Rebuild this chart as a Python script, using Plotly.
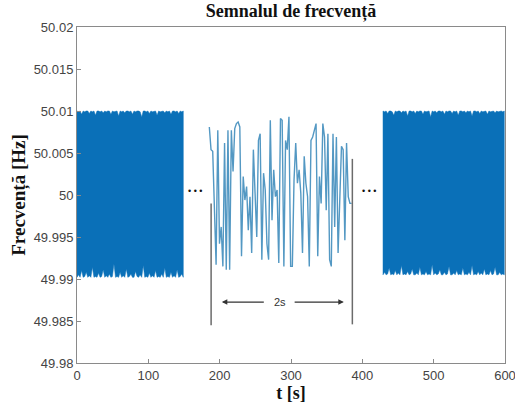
import numpy as np
import plotly.graph_objects as go

# ---------------- data ----------------
x_ticks = [0, 100, 200, 300, 400, 500, 600]
y_ticks = [49.98, 49.985, 49.99, 49.995, 50.0, 50.005, 50.01, 50.015, 50.02]
y_tick_labels = ["49.98", "49.985", "49.99", "49.995", "50", "50.005", "50.01", "50.015", "50.02"]

# dense block (left), span in seconds and jagged edges
left_span = [0, 149]
left_top = [50.0100, 50.0099, 50.0100, 50.0096, 50.0100, 50.0099, 50.0100, 50.0100, 50.0097, 50.0100,
            50.0099, 50.0100, 50.0095, 50.0100, 50.0100, 50.0099, 50.0100, 50.0098, 50.0100, 50.0099,
            50.0100, 50.0100, 50.0096, 50.0100, 50.0099, 50.0100, 50.0100, 50.0094, 50.0100, 50.0099,
            50.0100, 50.0098, 50.0100, 50.0100, 50.0099, 50.0100, 50.0096, 50.0100, 50.0099, 50.0100,
            50.0100, 50.0099, 50.0093, 50.0100, 50.0100, 50.0099, 50.0100, 50.0097, 50.0100, 50.0099,
            50.0100, 50.0100, 50.0095, 50.0100, 50.0099, 50.0100, 50.0100, 50.0098, 50.0100, 50.0099,
            50.0100, 50.0096, 50.0100, 50.0100, 50.0099, 50.0100, 50.0097, 50.0100, 50.0099, 50.0100]
left_bottom = [49.9902, 49.9905, 49.9902, 49.9910, 49.9902, 49.9903, 49.9908, 49.9902, 49.9904, 49.9902,
               49.9914, 49.9902, 49.9903, 49.9902, 49.9907, 49.9902, 49.9903, 49.9911, 49.9902, 49.9904,
               49.9902, 49.9906, 49.9902, 49.9903, 49.9918, 49.9902, 49.9903, 49.9902, 49.9908, 49.9902,
               49.9904, 49.9902, 49.9912, 49.9902, 49.9903, 49.9906, 49.9902, 49.9902, 49.9909, 49.9903,
               49.9902, 49.9905, 49.9902, 49.9916, 49.9902, 49.9903, 49.9902, 49.9907, 49.9902, 49.9904,
               49.9902, 49.9910, 49.9902, 49.9903, 49.9902, 49.9906, 49.9902, 49.9913, 49.9902, 49.9903,
               49.9902, 49.9908, 49.9902, 49.9904, 49.9902, 49.9911, 49.9902, 49.9903, 49.9906, 49.9902]

# dense block (right)
right_span = [429, 599]
right_top = [50.0100, 50.0099, 50.0100, 50.0097, 50.0100, 50.0100, 50.0099, 50.0095, 50.0100, 50.0099,
             50.0100, 50.0100, 50.0098, 50.0100, 50.0099, 50.0100, 50.0094, 50.0100, 50.0100, 50.0099,
             50.0100, 50.0097, 50.0100, 50.0099, 50.0100, 50.0100, 50.0096, 50.0100, 50.0099, 50.0100,
             50.0100, 50.0093, 50.0100, 50.0099, 50.0100, 50.0098, 50.0100, 50.0100, 50.0099, 50.0100,
             50.0096, 50.0100, 50.0099, 50.0100, 50.0100, 50.0097, 50.0100, 50.0099, 50.0100, 50.0095,
             50.0100, 50.0100, 50.0099, 50.0100, 50.0098, 50.0100, 50.0099, 50.0100, 50.0094, 50.0100,
             50.0100, 50.0099, 50.0100, 50.0097, 50.0100, 50.0099, 50.0100, 50.0100, 50.0096, 50.0100,
             50.0099, 50.0100, 50.0100, 50.0098, 50.0100, 50.0099, 50.0100, 50.0100, 50.0099, 50.0100]
right_bottom = [49.9905, 49.9908, 49.9905, 49.9906, 49.9913, 49.9905, 49.9906, 49.9905, 49.9910, 49.9905,
                49.9907, 49.9905, 49.9916, 49.9905, 49.9906, 49.9905, 49.9909, 49.9905, 49.9906, 49.9912,
                49.9905, 49.9905, 49.9907, 49.9905, 49.9914, 49.9905, 49.9906, 49.9905, 49.9909, 49.9905,
                49.9906, 49.9905, 49.9917, 49.9905, 49.9907, 49.9905, 49.9906, 49.9911, 49.9905, 49.9905,
                49.9908, 49.9905, 49.9906, 49.9915, 49.9905, 49.9905, 49.9907, 49.9905, 49.9910, 49.9905,
                49.9906, 49.9905, 49.9913, 49.9905, 49.9906, 49.9905, 49.9908, 49.9905, 49.9916, 49.9905,
                49.9906, 49.9905, 49.9909, 49.9905, 49.9907, 49.9905, 49.9912, 49.9905, 49.9906, 49.9905,
                49.9910, 49.9905, 49.9906, 49.9914, 49.9905, 49.9905, 49.9908, 49.9905, 49.9906, 49.9905]

# zoomed 2 s segment shown in the middle
mid_span = [185.5, 385.0]
mid_values = [50.0081, 50.0054, 50.0052, 49.9982, 49.9917, 50.0077, 49.9942, 49.9962, 49.9915, 50.0062,
              49.9911, 50.0077, 49.9911, 50.0077, 50.0028, 50.0079, 50.0085, 50.0087, 50.0081, 49.9927,
              50.0022, 49.9994, 50.0010, 49.9958, 49.9998, 49.9931, 50.0054, 50.0002, 49.9950, 50.0065,
              50.0073, 49.9923, 50.0026, 50.0006, 49.9942, 49.9923, 50.0089, 49.9970, 50.0030, 49.9998,
              50.0006, 49.9919, 50.0091, 50.0089, 49.9915, 50.0065, 50.0054, 50.0093, 49.9915, 49.9915,
              50.0018, 50.0062, 50.0014, 50.0030, 50.0002, 49.9931, 50.0046, 50.0014, 49.9998, 49.9915,
              50.0065, 50.0069, 50.0077, 50.0085, 49.9927, 50.0022, 49.9990, 50.0085, 50.0069, 49.9982,
              50.0073, 49.9923, 49.9915, 50.0073, 49.9962, 50.0069, 49.9931, 50.0002, 50.0058, 50.0054,
              49.9946, 50.0062, 49.9998, 49.9990, 49.9990]

# annotation elements
marker_lines = [[188, 49.9845, 49.9990], [386, 49.9846, 50.0043]]
span_arrow_y = 49.98725
span_arrow_left = [203, 264]
span_arrow_right = [303, 374]
span_label = "2s"
span_label_x = 284
ellipsis_x = [165, 410]
ellipsis_y = 50.0005

block_color = "#0A70B8"
mid_color = "#5398c3"
axis_color = "#8a8a8a"

fig = go.Figure()

def block(span, top, bottom):
    tt = np.linspace(span[0], span[1], len(top))
    tb = np.linspace(span[0], span[1], len(bottom))
    xs = list(tt) + list(tb[::-1]) + [tt[0]]
    ys = list(top) + list(bottom[::-1]) + [top[0]]
    fig.add_trace(go.Scatter(x=xs, y=ys, mode="lines", fill="toself",
                             fillcolor=block_color, line=dict(color=block_color, width=0.5),
                             hoverinfo="skip", showlegend=False))

block(left_span, left_top, left_bottom)
block(right_span, right_top, right_bottom)

t_mid = np.linspace(mid_span[0], mid_span[1], len(mid_values))
fig.add_trace(go.Scatter(x=t_mid, y=mid_values, mode="lines",
                         line=dict(color=mid_color, width=1.4), showlegend=False))

for xl, y0, y1 in marker_lines:
    fig.add_shape(type="line", x0=xl, x1=xl, y0=y0, y1=y1, xref="x", yref="y",
                  line=dict(color="#6b6b6b", width=1.5))

# arrows
fig.add_annotation(x=span_arrow_left[0], y=span_arrow_y, ax=span_arrow_left[1], ay=span_arrow_y,
                   xref="x", yref="y", axref="x", ayref="y", text="", showarrow=True,
                   arrowhead=2, arrowsize=1, arrowwidth=1.1, arrowcolor="#333333")
fig.add_annotation(x=span_arrow_right[1], y=span_arrow_y, ax=span_arrow_right[0], ay=span_arrow_y,
                   xref="x", yref="y", axref="x", ayref="y", text="", showarrow=True,
                   arrowhead=2, arrowsize=1, arrowwidth=1.1, arrowcolor="#333333")
fig.add_annotation(x=span_label_x, y=span_arrow_y, text=span_label, showarrow=False,
                   xref="x", yref="y", font=dict(family="Liberation Sans, Arial", size=11, color="#333333"))

for ex in ellipsis_x:
    fig.add_annotation(x=ex, y=ellipsis_y, text="• • •", showarrow=False, xref="x", yref="y",
                       font=dict(family="Liberation Sans, Arial", size=9, color="#111111"))

fig.update_layout(
    width=515, height=414,
    margin=dict(l=77, r=10, t=27, b=51),
    paper_bgcolor="white", plot_bgcolor="white",
    title=dict(text="<b>Semnalul de frecvență</b>", x=0.565, xanchor="center", y=0.99, yanchor="top",
               font=dict(family="Liberation Serif, Times New Roman", size=18, color="#111111")),
    showlegend=False,
)
fig.update_xaxes(range=[0, 600], tickvals=x_ticks, ticks="inside", ticklen=4, tickcolor=axis_color,
                 showline=True, linecolor=axis_color, linewidth=1, mirror=True, showgrid=False, zeroline=False,
                 ticklabeloverflow="allow", automargin=False,
                 tickfont=dict(family="Liberation Sans, Arial", size=13, color="#444444"),
                 title=dict(text="<b>t [s]</b>", standoff=4,
                            font=dict(family="Liberation Serif, Times New Roman", size=18, color="#111111")))
fig.update_yaxes(range=[49.98, 50.02], tickvals=y_ticks, ticktext=y_tick_labels, ticks="inside", ticklen=4,
                 tickcolor=axis_color, showline=True, linecolor=axis_color, linewidth=1, mirror=True,
                 showgrid=False, zeroline=False, automargin=False,
                 tickfont=dict(family="Liberation Sans, Arial", size=13, color="#444444"),
                 title=dict(text="<b>Frecvență [Hz]</b>", standoff=2,
                            font=dict(family="Liberation Serif, Times New Roman", size=19, color="#111111")))

fig.write_html("out.html")
